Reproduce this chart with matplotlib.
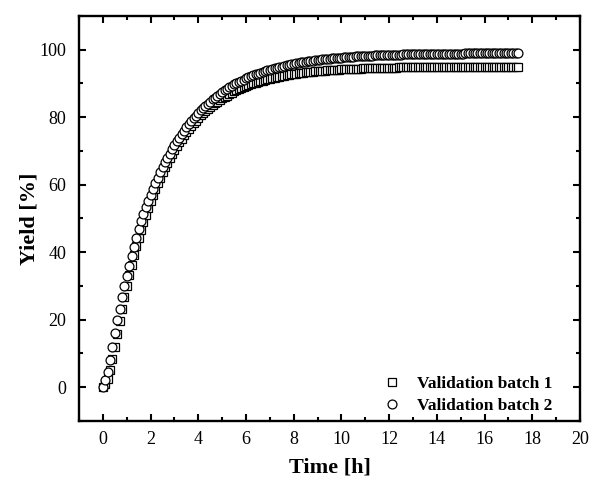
import numpy as np
import matplotlib
matplotlib.use("Agg")
import matplotlib.pyplot as plt
from matplotlib.ticker import MultipleLocator

plt.rcParams['font.family'] = ['Liberation Serif', 'DejaVu Serif']

# time grid: one sample every 0.1 h (6 min), 0 .. 17.4 h
time_h = np.round(np.arange(175) * 0.1, 1)

# Validation batch 1 (squares), yield in %
batch1 = [
    0.0, 0.8, 2.5, 5.0, 8.2, 12.0, 15.8, 19.5, 23.1, 26.6,
    30.0, 33.3, 36.3, 39.1, 41.7, 44.2, 46.6, 48.9, 51.0, 53.1,
    55.1, 56.9, 58.7, 60.4, 62.1, 63.6, 65.1, 66.5, 67.8, 69.1,
    70.3, 71.5, 72.6, 73.6, 74.6, 75.6, 76.5, 77.4, 78.2, 79.0,
    79.8, 80.5, 81.2, 81.8, 82.4, 83.0, 83.6, 84.1, 84.6, 85.1,
    85.6, 86.0, 86.4, 86.8, 87.2, 87.6, 87.9, 88.3, 88.6, 88.9,
    89.2, 89.5, 89.7, 90.0, 90.2, 90.4, 90.6, 90.8, 91.0, 91.2,
    91.4, 91.6, 91.7, 91.9, 92.0, 92.2, 92.3, 92.4, 92.6, 92.7,
    92.8, 92.9, 93.0, 93.1, 93.2, 93.3, 93.3, 93.4, 93.5, 93.6,
    93.6, 93.7, 93.8, 93.8, 93.9, 93.9, 94.0, 94.0, 94.1, 94.1,
    94.2, 94.2, 94.2, 94.3, 94.3, 94.4, 94.4, 94.4, 94.4, 94.5,
    94.5, 94.5, 94.5, 94.6, 94.6, 94.6, 94.6, 94.6, 94.7, 94.7,
    94.7, 94.7, 94.7, 94.7, 94.8, 94.8, 94.8, 94.8, 94.8, 94.8,
    94.8, 94.8, 94.8, 94.9, 94.9, 94.9, 94.9, 94.9, 94.9, 94.9,
    94.9, 94.9, 94.9, 94.9, 94.9, 94.9, 94.9, 94.9, 94.9, 94.9,
    95.0, 95.0, 95.0, 95.0, 95.0, 95.0, 95.0, 95.0, 95.0, 95.0,
    95.0, 95.0, 95.0, 95.0, 95.0, 95.0, 95.0, 95.0, 95.0, 95.0,
    95.0, 95.0, 95.0, 95.0, 95.0,
]

# Validation batch 2 (circles), yield in %
batch2 = [
    0.0, 2.0, 4.5, 8.0, 12.0, 16.0, 19.8, 23.2, 26.6, 29.9,
    33.0, 36.0, 38.8, 41.5, 44.2, 46.9, 49.2, 51.3, 53.3, 55.2,
    57.0, 58.8, 60.5, 62.1, 63.7, 65.1, 66.6, 67.9, 69.2, 70.5,
    71.7, 72.8, 73.9, 75.0, 76.0, 77.0, 77.9, 78.8, 79.6, 80.4,
    81.2, 82.0, 82.7, 83.4, 84.0, 84.6, 85.3, 85.8, 86.4, 86.9,
    87.4, 87.9, 88.4, 88.8, 89.2, 89.7, 90.0, 90.4, 90.8, 91.1,
    91.5, 91.8, 92.1, 92.4, 92.7, 92.9, 93.2, 93.4, 93.7, 93.9,
    94.1, 94.3, 94.5, 94.7, 94.9, 95.0, 95.2, 95.4, 95.5, 95.7,
    95.8, 95.9, 96.1, 96.2, 96.3, 96.4, 96.5, 96.6, 96.7, 96.8,
    96.9, 97.0, 97.1, 97.2, 97.3, 97.3, 97.4, 97.5, 97.5, 97.6,
    97.6, 97.7, 97.8, 97.8, 97.9, 97.9, 98.0, 98.0, 98.0, 98.1,
    98.1, 98.2, 98.2, 98.2, 98.3, 98.3, 98.3, 98.4, 98.4, 98.4,
    98.4, 98.5, 98.5, 98.5, 98.5, 98.5, 98.6, 98.6, 98.6, 98.6,
    98.6, 98.6, 98.7, 98.7, 98.7, 98.7, 98.7, 98.7, 98.7, 98.8,
    98.8, 98.8, 98.8, 98.8, 98.8, 98.8, 98.8, 98.8, 98.8, 98.8,
    98.8, 98.8, 98.9, 98.9, 98.9, 98.9, 98.9, 98.9, 98.9, 98.9,
    98.9, 98.9, 98.9, 98.9, 98.9, 98.9, 98.9, 98.9, 98.9, 98.9,
    98.9, 98.9, 98.9, 98.9, 98.9,
]

fig = plt.figure(figsize=(5.9, 4.82), dpi=100)
ax = fig.add_axes([0.134, 0.127, 0.849, 0.840])

ax.plot(time_h, batch1, linestyle='none', marker='s', markersize=5.6,
        markerfacecolor='white', markeredgecolor='black', markeredgewidth=0.9,
        label='Validation batch 1')
ax.plot(time_h, batch2, linestyle='none', marker='o', markersize=6.4,
        markerfacecolor='white', markeredgecolor='black', markeredgewidth=0.9,
        label='Validation batch 2')

ax.set_xlim(-1, 20)
ax.set_ylim(-10, 110)
ax.xaxis.set_major_locator(MultipleLocator(2))
ax.xaxis.set_minor_locator(MultipleLocator(1))
ax.yaxis.set_major_locator(MultipleLocator(20))
ax.yaxis.set_minor_locator(MultipleLocator(10))

ax.tick_params(which='both', direction='in', top=True, right=True, width=1.5,
               labelsize=13)
ax.tick_params(axis='x', pad=7)
ax.tick_params(axis='y', pad=9)
ax.tick_params(which='major', length=5)
ax.tick_params(which='minor', length=3)
for sp in ax.spines.values():
    sp.set_linewidth(1.7)

ax.set_xlabel('Time [h]', fontsize=16, fontweight='bold', labelpad=7)
ax.set_ylabel('Yield [%]', fontsize=16, fontweight='bold', labelpad=0)

ax.legend(loc='lower right', bbox_to_anchor=(0.958, 0.0), borderaxespad=0,
          frameon=False, handletextpad=0.9, labelspacing=0.3, handlelength=1.0,
          prop={'weight': 'bold', 'size': 12.5})

fig.savefig('out.png', dpi=100)
